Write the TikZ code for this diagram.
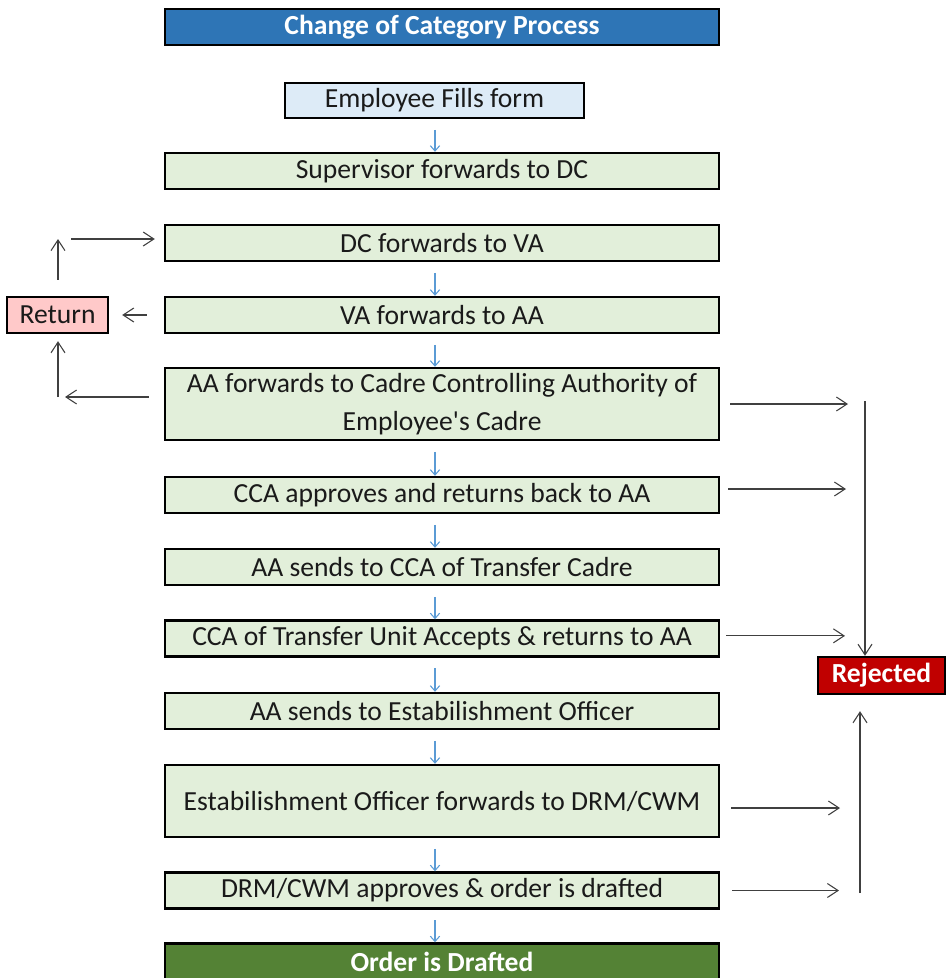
\documentclass[tikz,border=0pt]{standalone}
\usepackage{fontspec}
\setmainfont{Carlito}
\usetikzlibrary{arrows.meta}
\definecolor{titleblue}{HTML}{2E75B6}
\definecolor{emplblue}{HTML}{DDEBF7}
\definecolor{boxgreen}{HTML}{E2EFDA}
\definecolor{ordergreen}{HTML}{548235}
\definecolor{retpink}{HTML}{FFC9C9}
\definecolor{rejred}{HTML}{C00000}
\definecolor{arrowgray}{HTML}{404040}
\definecolor{arrowblue}{HTML}{5B9BD5}
\definecolor{textdark}{HTML}{1A1A1A}
\begin{document}
\begin{tikzpicture}[x=0.75pt,y=-0.75pt,
  box/.style={draw=black, line width=1.8pt, minimum width=415.5pt, minimum height=27pt,
    inner sep=0pt, align=center, fill=boxgreen, text=textdark,
    font=\fontsize{20.7}{28.5}\selectfont},
  boldtext/.style={text=white, font=\fontsize{20.7}{28.5}\selectfont\bfseries},
  tallbox/.style={minimum height=54pt},
  garrow/.style={draw=arrowgray, line width=0.8pt, -{Straight Barb[length=8pt,width=10.5pt]}},
  barrow/.style={draw=arrowblue, line width=0.8pt, -{Straight Barb[length=4pt,width=7pt]}}]
\useasboundingbox (0,0) rectangle (947,978);

% main column
\node[box, fill=titleblue, boldtext] (title) at (442,27) {Change of Category Process};
\node[box, fill=emplblue, minimum width=224.25pt, minimum height=26.25pt] (emp) at (434.5,100.5) {Employee Fills form};
\node[box] (sup) at (442,171) {Supervisor forwards to DC};
\node[box] (dc) at (442,243) {DC forwards to VA};
\node[box] (va) at (442,315) {VA forwards to AA};
\node[box, tallbox] (aa1) at (442,404) {AA forwards to Cadre Controlling Authority of\\Employee\textquotesingle s Cadre};
\node[box] (cca1) at (442,495) {CCA approves and returns back to AA};
\node[box] (aa2) at (442,567) {AA sends to CCA of Transfer Cadre};
\node[box] (cca2) at (442,638.5) {CCA of Transfer Unit Accepts \& returns to AA};
\node[box] (aa3) at (442,711) {AA sends to Estabilishment Officer};
\node[box, tallbox] (eo) at (442,801) {Estabilishment Officer forwards to DRM/CWM};
\node[box] (drm) at (442,890.5) {DRM/CWM approves \& order is drafted};
\node[box, fill=ordergreen, boldtext] (order) at (442,961.5) {Order is Drafted};

% side nodes
\node[box, fill=retpink, minimum width=75.75pt] (ret) at (57.5,315) {Return};
\node[box, fill=rejred, boldtext, minimum width=95.25pt, minimum height=27.75pt] (rej) at (881.5,675.5) {Rejected};

% blue flow arrows
\coordinate (col) at (435,0);
\foreach \a/\b in {emp/sup, dc/va, va/aa1, aa1/cca1, cca1/aa2, aa2/cca2, cca2/aa3, aa3/eo, eo/drm, drm/order}
  \draw[barrow, shorten <=8pt] (\a.south -| col) -- (\b.north -| col);

% return side
\coordinate (rtop) at (58,239);
\coordinate (rbot) at (58,397);
\draw[garrow, shorten <=12pt] (ret.north -| rtop) -- (rtop);
\draw[garrow, shorten <=9.75pt, shorten >=6.75pt] (rtop) -- (dc.west |- rtop);
\draw[garrow, shorten <=12.75pt, shorten >=9.75pt] (va.west) -- (ret.east);
\draw[garrow, shorten <=11.25pt, shorten >=5.25pt] (aa1.west |- rbot) -- (rbot);
\draw[garrow, shorten >=5.25pt] (rbot) -- (ret.south -| rbot);

% rejected side
\coordinate (rv1) at (865,401);
\coordinate (rv2) at (860,893);
\draw[garrow, shorten <=7.5pt, shorten >=12.75pt] (aa1.east) -- (aa1.east -| rv1);
\draw[garrow, shorten <=6pt, shorten >=14.25pt] ([yshift=4.5pt]cca1.east) -- ([yshift=4.5pt]cca1.east -| rv1);
\draw[garrow, shorten <=4.5pt, shorten >=15pt] ([yshift=2pt]cca2.east) -- ([yshift=2pt]cca2.east -| rv1);
\draw[garrow] (rv1) -- (rej.north -| rv1);
\draw[garrow, shorten <=8.25pt, shorten >=15pt] ([yshift=-5.25pt]eo.east) -- ([yshift=-5.25pt]eo.east -| rv2);
\draw[garrow, shorten <=9pt, shorten >=15.75pt] (drm.east) -- (drm.east -| rv2);
\draw[garrow, shorten >=12pt] (rv2) -- (rej.south -| rv2);
\end{tikzpicture}
\end{document}
